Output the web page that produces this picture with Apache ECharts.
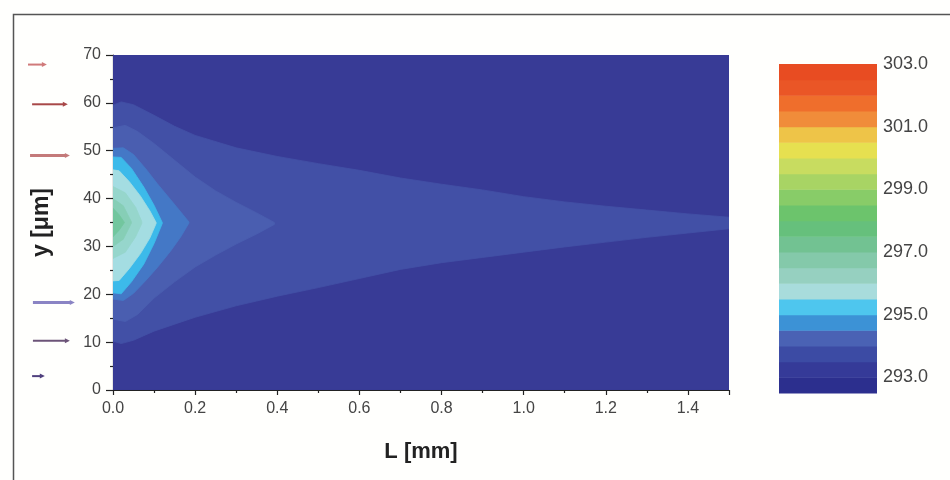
<!DOCTYPE html>
<html>
<head>
<meta charset="utf-8">
<script src="https://cdn.jsdelivr.net/npm/echarts@6/dist/echarts.min.js"></script>
<style>
html,body{margin:0;padding:0;background:#fffffd;}
#c{width:950px;height:480px;}
</style>
</head>
<body>
<div id="c"></div>
<script>
// ---- tick labels ----
var xTicks = [0.0, 0.2, 0.4, 0.6, 0.8, 1.0, 1.2, 1.4];
var yTicks = [0, 10, 20, 30, 40, 50, 60, 70];
var colorbarTicks = [293.0, 295.0, 297.0, 299.0, 301.0, 303.0];

// ---- contour levels (lower bound, K) and fill colours ----
var contourLevels = [293.0, 293.5, 294.0, 294.5, 295.0, 295.5, 296.0, 296.5, 297.0];
var contourColors = ['#383b96', '#4250a6', '#4a5eb0', '#4478c6', '#3cbaea', '#a4dde2', '#96d6cc', '#86ceb6', '#72c69e'];

// ---- contour boundaries: [L (mm), y (um)] ----
var top293 = [[0, 70], [1.5, 70]];
var bot293 = [[0, 0], [1.5, 0]];
var top2935 = [[0, 59.5], [0.02, 60.2], [0.05, 59.6], [0.1, 57.4], [0.15, 55.1], [0.2, 53.2], [0.3, 50.6], [0.4, 48.8], [0.5, 47.3], [0.6, 45.9], [0.7, 44.3], [0.8, 43.0], [0.9, 41.8], [1.0, 40.4], [1.1, 39.3], [1.2, 38.4], [1.3, 37.6], [1.4, 36.8], [1.5, 36.1]];
var bot2935 = [[0, 10.2], [0.02, 9.7], [0.05, 10.4], [0.1, 12.3], [0.2, 15.2], [0.3, 17.6], [0.4, 19.6], [0.5, 21.4], [0.6, 23.3], [0.7, 25.2], [0.8, 26.6], [0.9, 27.7], [1.0, 28.8], [1.1, 29.9], [1.2, 30.9], [1.3, 31.9], [1.4, 32.8], [1.5, 33.7]];
var top294 = [[0, 54.8], [0.03, 55.3], [0.06, 54.0], [0.1, 51.5], [0.15, 48.0], [0.2, 44.5], [0.25, 41.6], [0.3, 39.2], [0.35, 37.0], [0.393, 35.0]];
var bot294 = [[0, 14.8], [0.03, 14.3], [0.06, 15.8], [0.1, 19.2], [0.15, 22.6], [0.2, 25.7], [0.25, 28.2], [0.3, 30.5], [0.35, 32.6], [0.393, 34.6]];
var top2945 = [[0, 50.5], [0.025, 50.6], [0.05, 49.2], [0.08, 46.2], [0.108, 43.1], [0.14, 39.8], [0.165, 37.2], [0.185, 35.1]];
var bot2945 = [[0, 19.0], [0.025, 18.7], [0.05, 20.2], [0.08, 22.9], [0.108, 25.6], [0.14, 29.0], [0.165, 32.0], [0.185, 34.9]];
var top295 = [[0, 48.7], [0.02, 48.6], [0.045, 46.3], [0.075, 42.4], [0.1, 38.6], [0.12, 35.0]];
var bot295 = [[0, 20.3], [0.02, 20.1], [0.045, 22.6], [0.075, 26.3], [0.1, 30.6], [0.12, 34.8]];
var top2955 = [[0, 46.0], [0.015, 45.8], [0.04, 43.5], [0.067, 40.5], [0.09, 37.4], [0.105, 35.0]];
var bot2955 = [[0, 22.8], [0.015, 22.9], [0.04, 25.4], [0.067, 28.5], [0.09, 31.8], [0.105, 34.8]];
var top296 = [[0, 42.5], [0.03, 41.2], [0.055, 38.2], [0.07, 35.2]];
var bot296 = [[0, 27.5], [0.03, 28.8], [0.055, 32.0], [0.07, 34.8]];
var top2965 = [[0, 40.0], [0.025, 38.5], [0.045, 35.1]];
var bot2965 = [[0, 30.0], [0.025, 31.5], [0.045, 34.9]];
var top297 = [[0, 38.0], [0.015, 36.6], [0.028, 35.0]];
var bot297 = [[0, 32.0], [0.015, 33.4], [0.028, 35.0]];

var contourTops = [top293, top2935, top294, top2945, top295, top2955, top296, top2965, top297];
var contourBots = [bot293, bot2935, bot294, bot2945, bot295, bot2955, bot296, bot2965, bot297];

// ---- colour bar bands (lower bound, K) and colours ----
var cbLevels = [292.5, 293.0, 293.5, 294.0, 294.5, 295.0, 295.5, 296.0, 296.5, 297.0, 297.5, 298.0, 298.5, 299.0, 299.5, 300.0, 300.5, 301.0, 301.5, 302.0, 302.5];
var cbColors = ['#2c2f8e', '#353a98', '#3c4ba4', '#4a62b4', '#3c92d6', '#4ec6ee', '#a8dcdc', '#96d0c0', '#84c9aa', '#72c292', '#66c07c', '#6cc46c', '#88cc68', '#a8d464', '#c8dc60', '#e6e050', '#eec448', '#f08c3a', '#ef6e2c', '#ea5626', '#e84c22'];
var cbStep = 0.5;

// ---- inflow arrows at the left: y (um), start/end L (mm), colour ----
var arrowY = [68.0, 59.7, 49.0, 18.3, 10.3, 2.9];
var arrowX0 = [-0.207, -0.197, -0.202, -0.195, -0.195, -0.197];
var arrowX1 = [-0.161, -0.110, -0.105, -0.093, -0.105, -0.166];
var arrowColors = ['#d07a7a', '#a84848', '#c47a7a', '#8a84c4', '#6c5478', '#50407e'];
var arrowWidths = [2, 2, 3, 3, 2, 2];

var labelFont = 'Liberation Sans, Arial, sans-serif';

var chart = echarts.init(document.getElementById('c'), null, {renderer: 'canvas'});

function contourItem(params, api) {
  var i = params.dataIndex;
  var pts = [];
  var t = contourTops[i], b = contourBots[i];
  for (var k = 0; k < t.length; k++) pts.push(api.coord(t[k]));
  for (var k2 = b.length - 1; k2 >= 0; k2--) pts.push(api.coord(b[k2]));
  return {
    type: 'polygon',
    shape: {points: pts, smooth: 0},
    style: {fill: contourColors[i], stroke: contourColors[i], lineWidth: 0.8}
  };
}

function cbItem(params, api) {
  var i = params.dataIndex;
  var p0 = api.coord([0, cbLevels[i]]);
  var p1 = api.coord([1, cbLevels[i] + cbStep]);
  return {
    type: 'rect',
    shape: {x: p0[0], y: p1[1], width: p1[0] - p0[0], height: p0[1] - p1[1] + 0.5},
    style: {fill: cbColors[i]}
  };
}

function arrowItem(params, api) {
  var i = params.dataIndex;
  var s = api.coord([arrowX0[i], arrowY[i]]);
  var e = api.coord([arrowX1[i], arrowY[i]]);
  var h = 5;
  return {
    type: 'group',
    children: [
      {type: 'line', shape: {x1: s[0], y1: s[1], x2: e[0] - h + 1, y2: e[1]},
        style: {stroke: arrowColors[i], lineWidth: arrowWidths[i]}},
      {type: 'polygon', shape: {points: [[e[0], e[1]], [e[0] - h, e[1] - 2.5], [e[0] - h, e[1] + 2.5]]},
        style: {fill: arrowColors[i]}}
    ]
  };
}

var option = {
  backgroundColor: '#fffffd',
  animation: false,
  graphic: [{
    type: 'rect', left: 11, top: 12,
    shape: {width: 1000, height: 1000},
    style: {fill: 'none', stroke: '#555', lineWidth: 1.5}, z: -10
  }],
  grid: [
    {left: 113, top: 55, width: 616, height: 335},
    {left: 779, top: 64, width: 98, height: 329}
  ],
  xAxis: [{
    gridIndex: 0, type: 'value', min: 0, max: 1.5, interval: 0.2,
    axisLine: {lineStyle: {color: '#222', width: 1.2}},
    axisTick: {length: 5, lineStyle: {color: '#222', width: 1.2}},
    minorTick: {show: true, splitNumber: 2, length: 3, lineStyle: {color: '#222', width: 1.2}},
    splitLine: {show: false},
    axisLabel: {
      fontFamily: labelFont, fontSize: 16, color: '#444', margin: 11, showMaxLabel: false,
      formatter: function (v) {
        for (var k = 0; k < xTicks.length; k++) if (Math.abs(xTicks[k] - v) < 1e-6) return xTicks[k].toFixed(1);
        return '';
      }
    },
    name: 'L [mm]', nameLocation: 'middle', nameGap: 51,
    nameTextStyle: {fontFamily: labelFont, fontSize: 22, fontWeight: 'bold', color: '#222'}
  }, {
    gridIndex: 1, type: 'value', min: 0, max: 1, show: false
  }],
  yAxis: [{
    gridIndex: 0, type: 'value', min: 0, max: 70, interval: 10,
    axisLine: {show: true, lineStyle: {color: '#222', width: 1.2}},
    axisTick: {show: true, length: 7, lineStyle: {color: '#222', width: 1.2}},
    minorTick: {show: true, splitNumber: 2, length: 3, lineStyle: {color: '#222', width: 1.2}},
    splitLine: {show: false},
    axisLabel: {
      fontFamily: labelFont, fontSize: 16, color: '#444', margin: 12,
      formatter: function (v) {
        for (var k = 0; k < yTicks.length; k++) if (Math.abs(yTicks[k] - v) < 1e-6) return String(yTicks[k]);
        return '';
      }
    },
    name: 'y [μm]', nameLocation: 'middle', nameGap: 60, nameRotate: 90,
    nameTextStyle: {fontFamily: labelFont, fontSize: 23, fontWeight: 'bold', color: '#222'}
  }, {
    gridIndex: 1, type: 'value', min: 292.5, max: 303, interval: 0.5, position: 'right',
    axisLine: {show: false}, axisTick: {show: false}, splitLine: {show: false},
    axisLabel: {
      fontFamily: labelFont, fontSize: 18, color: '#444', margin: 6,
      formatter: function (v) {
        for (var k = 0; k < colorbarTicks.length; k++) if (Math.abs(colorbarTicks[k] - v) < 1e-6) return colorbarTicks[k].toFixed(1);
        return '';
      }
    }
  }],
  series: [{
    type: 'custom', xAxisIndex: 0, yAxisIndex: 0, clip: true,
    renderItem: contourItem,
    data: contourLevels.map(function (v) { return [0, 0, v]; }),
    z: 1
  }, {
    type: 'custom', xAxisIndex: 1, yAxisIndex: 1,
    renderItem: cbItem,
    data: cbLevels.map(function (v) { return [0, v]; }),
    z: 1
  }, {
    type: 'custom', xAxisIndex: 0, yAxisIndex: 0, clip: false,
    renderItem: arrowItem,
    data: arrowY.map(function (v, i) { return [arrowX0[i], v]; }),
    z: 3
  }]
};
chart.setOption(option);
</script>
</body>
</html>
